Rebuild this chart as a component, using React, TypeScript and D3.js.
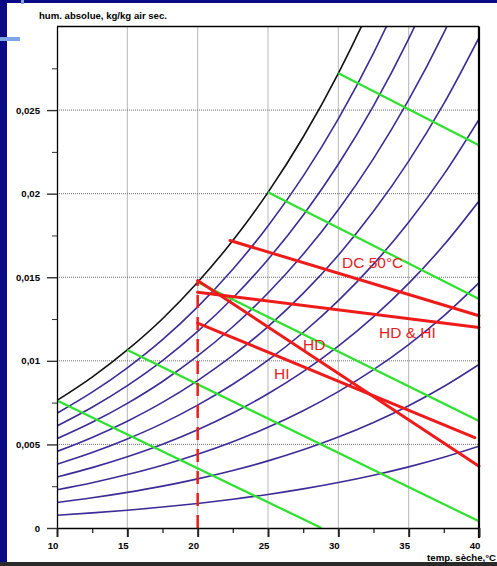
import { useEffect, useRef } from "react";
import * as d3 from "d3";

// saturation humidity (kg/kg) every 2.5 °C
const tempGrid = [10, 12.5, 15, 17.5, 20, 22.5, 25, 27.5, 30, 32.5, 35, 37.5, 40];
const wSat = [0.00763, 0.00903, 0.01065, 0.01252, 0.0147, 0.0172, 0.02008, 0.02339, 0.0272, 0.03157, 0.03658, 0.04231, 0.04889];
const rhLevels = [0.1, 0.2, 0.3, 0.4, 0.5, 0.6, 0.7, 0.8, 0.9];

// green wet-bulb lines: [t0, w0, t1, w1]
const wetBulbLines = [
  [10, 0.00763, 28.8, 0],
  [15, 0.01065, 40, 0.0004],
  [20, 0.0147, 40, 0.0064],
  [25, 0.02008, 40, 0.0137],
  [30, 0.0272, 40, 0.0229]
];

// red process lines
const processLines = [
  { name: "DC 50°C", pts: [[22.3, 0.0172], [40, 0.0127]] },
  { name: "HD & HI", pts: [[20, 0.0141], [40, 0.012]] },
  { name: "HD", pts: [[20, 0.0148], [40, 0.0037]] },
  { name: "HI", pts: [[20, 0.01226], [39.7, 0.0054]] }
];
const dashedLine = [[20, 0], [20, 0.0148]];

const labels = [
  { text: "DC 50°C", t: 30.26, w: 0.01555 },
  { text: "HD & HI", t: 32.89, w: 0.01136 },
  { text: "HD", t: 27.49, w: 0.01065 },
  { text: "HI", t: 25.43, w: 0.00891 }
];

const xMajor = [10, 15, 20, 25, 30, 35, 40];
const xMinor = [12.5, 17.5, 22.5, 27.5, 32.5, 37.5];
const yMajor = [0, 0.005, 0.01, 0.015, 0.02, 0.025];
const yMajorLabels = ["0", "0,005", "0,01", "0,015", "0,02", "0,025"];
const yMinor = [0.0025, 0.0075, 0.0125, 0.0175, 0.0225, 0.0275];

const font = "Liberation Sans, Arial, sans-serif";

export default function App() {
  const svgRef = useRef<SVGSVGElement | null>(null);

  useEffect(() => {
    const svg = d3.select(svgRef.current);
    svg.selectAll("*").remove();

    const width = 497;
    const height = 566;
    const left = 57, right = 479, top = 26.5, bottom = 528;

    // slide background
    svg.append("rect").attr("width", width).attr("height", height).attr("fill", "#0a0a86");
    svg.append("rect").attr("x", 7).attr("y", 3).attr("width", width - 7).attr("height", 559).attr("fill", "#fff");
    svg.append("rect").attr("y", 562).attr("width", width).attr("height", 4).attr("fill", "#2a2a2a");
    svg.append("rect").attr("x", 0).attr("y", 37).attr("width", 20).attr("height", 4).attr("fill", "#7ea6e6");
    svg.append("rect").attr("x", 21).attr("y", 0).attr("width", 3).attr("height", 4).attr("fill", "#7ea6e6");

    const x = d3.scaleLinear().domain([10, 40]).range([left, right]);
    const y = d3.scaleLinear().domain([0, 0.03]).range([bottom, top]);

    // dotted grid
    const grid = svg.append("g").attr("stroke", "#6f6f6f").attr("stroke-width", 1).attr("stroke-dasharray", "1,1");
    grid.selectAll("line.v")
      .data(xMajor.slice(1, -1))
      .join("line")
      .attr("class", "v")
      .attr("x1", (d) => x(d)).attr("x2", (d) => x(d))
      .attr("y1", top).attr("y2", bottom);
    grid.selectAll("line.h")
      .data(yMajor.slice(1))
      .join("line")
      .attr("class", "h")
      .attr("x1", left).attr("x2", right)
      .attr("y1", (d) => y(d)).attr("y2", (d) => y(d));

    svg.append("defs").append("clipPath").attr("id", "plot")
      .append("rect").attr("x", left).attr("y", top).attr("width", right - left).attr("height", bottom - top);
    const plot = svg.append("g").attr("clip-path", "url(#plot)");

    const curve = d3.line<number>()
      .x((_, i) => x(tempGrid[i]))
      .y((d) => y(d))
      .curve(d3.curveMonotoneX);

    plot.append("g")
      .selectAll("path")
      .data(rhLevels)
      .join("path")
      .attr("d", (rh) => curve(wSat.map((w) => w * rh)))
      .attr("fill", "none")
      .attr("stroke", "#3d2b98")
      .attr("stroke-width", 1.6);

    plot.append("path")
      .attr("d", curve(wSat))
      .attr("fill", "none")
      .attr("stroke", "#111")
      .attr("stroke-width", 1.6);

    plot.append("g")
      .selectAll("line")
      .data(wetBulbLines)
      .join("line")
      .attr("x1", (d) => x(d[0])).attr("y1", (d) => y(d[1]))
      .attr("x2", (d) => x(d[2])).attr("y2", (d) => y(d[3]))
      .attr("stroke", "#2de22d")
      .attr("stroke-width", 2.2);

    const seg = d3.line<number[]>().x((d) => x(d[0])).y((d) => y(d[1]));

    plot.append("path")
      .attr("d", seg(dashedLine))
      .attr("stroke", "#e8201c")
      .attr("stroke-width", 2.5)
      .attr("stroke-dasharray", "13,9")
      .attr("fill", "none");

    svg.append("g")
      .selectAll("path")
      .data(processLines)
      .join("path")
      .attr("d", (d) => seg(d.pts))
      .attr("fill", "none")
      .attr("stroke", "#ee1b1b")
      .attr("stroke-width", 3)
      .attr("stroke-linecap", "round");

    svg.append("g")
      .selectAll("text")
      .data(labels)
      .join("text")
      .attr("x", (d) => x(d.t))
      .attr("y", (d) => y(d.w))
      .attr("fill", "#e41e1e")
      .style("font-family", font)
      .style("font-size", "15.5px")
      .text((d) => d.text);

    // frame
    svg.append("line").attr("x1", left).attr("x2", right).attr("y1", top).attr("y2", top)
      .attr("stroke", "#000").attr("stroke-width", 1.3);
    svg.append("line").attr("x1", right).attr("x2", right).attr("y1", top).attr("y2", bottom + 10)
      .attr("stroke", "#000").attr("stroke-width", 2.2);

    // axes
    const yAxisMinor = d3.axisLeft(y).tickValues(yMinor).tickSize(5).tickFormat(() => "");
    svg.append("g").attr("transform", `translate(${left},0)`).call(yAxisMinor)
      .call((g) => g.select(".domain").remove())
      .selectAll("line").attr("stroke", "#333");

    const yAxis = d3.axisLeft(y)
      .tickValues(yMajor)
      .tickSize(10)
      .tickPadding(7)
      .tickSizeOuter(0)
      .tickFormat((_, i) => yMajorLabels[i]);
    const gy = svg.append("g").attr("transform", `translate(${left},0)`).call(yAxis);
    gy.select(".domain").attr("stroke", "#000").attr("stroke-width", 1.3);
    gy.selectAll("line").attr("stroke", "#333").attr("stroke-width", 1.4);
    gy.selectAll("text")
      .attr("fill", "#000")
      .style("font-family", font)
      .style("font-size", "9.6px")
      .style("font-weight", 600);

    const xAxisMinor = d3.axisBottom(x).tickValues(xMinor).tickSize(5).tickFormat(() => "");
    svg.append("g").attr("transform", `translate(0,${bottom})`).call(xAxisMinor)
      .call((g) => g.select(".domain").remove())
      .selectAll("line").attr("stroke", "#333").attr("stroke-width", 1.4);

    const xAxis = d3.axisBottom(x)
      .tickValues(xMajor)
      .tickSize(9)
      .tickPadding(5)
      .tickSizeOuter(0)
      .tickFormat(d3.format("d"));
    const gx = svg.append("g").attr("transform", `translate(0,${bottom})`).call(xAxis);
    gx.select(".domain").attr("stroke", "#000").attr("stroke-width", 1.3);
    gx.selectAll("line").attr("stroke", "#222").attr("stroke-width", 2);
    gx.selectAll("text")
      .attr("x", -4.5)
      .attr("fill", "#000")
      .style("font-family", font)
      .style("font-size", "9.6px")
      .style("font-weight", 600);

    svg.append("text")
      .attr("x", 39)
      .attr("y", 19)
      .attr("fill", "#000")
      .style("font-family", font)
      .style("font-size", "9.6px")
      .style("font-weight", 600)
      .text("hum. absolue, kg/kg air sec.");

    svg.append("text")
      .attr("x", 496)
      .attr("y", 560.5)
      .attr("text-anchor", "end")
      .attr("fill", "#000")
      .style("font-family", font)
      .style("font-size", "9.6px")
      .style("font-weight", 600)
      .text("temp. sèche,°C");
  }, []);

  return (
    <div style={{ position: "absolute", left: 0, top: 0 }}>
      <svg ref={svgRef} width={497} height={566} style={{ display: "block" }} />
    </div>
  );
}
